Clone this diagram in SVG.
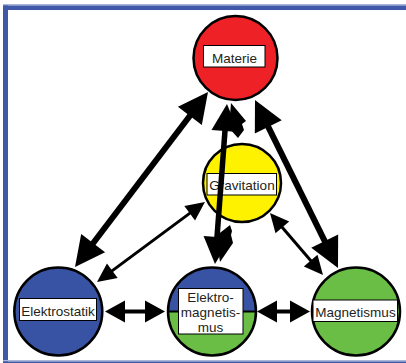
<svg xmlns="http://www.w3.org/2000/svg" width="406" height="363" viewBox="0 0 406 363">
<style>
.c{stroke:#000;stroke-width:2.5}
.lb{fill:#fff;stroke:#000;stroke-width:1}
text{font-family:"Liberation Sans",Arial,sans-serif;font-size:13.5px;fill:#231F20;text-anchor:middle}
.ln{stroke:#000;fill:none}
</style>
<defs>
<marker id="hL" markerUnits="userSpaceOnUse" markerWidth="30" markerHeight="30" refX="2" refY="15" orient="auto-start-reverse" overflow="visible"><path d="M0,0 L30,15 L0,30 z" fill="#000"/></marker>
<marker id="hC" markerUnits="userSpaceOnUse" markerWidth="27" markerHeight="27" refX="2" refY="13.5" orient="auto-start-reverse" overflow="visible"><path d="M0,0 L27,13.5 L0,27 z" fill="#000"/></marker>
<marker id="hS" markerUnits="userSpaceOnUse" markerWidth="19" markerHeight="18" refX="2" refY="9" orient="auto-start-reverse" overflow="visible"><path d="M0,0 L19,9 L0,18 z" fill="#000"/></marker>
<marker id="hH" markerUnits="userSpaceOnUse" markerWidth="20" markerHeight="22" refX="2" refY="11" orient="auto-start-reverse" overflow="visible"><path d="M0,0 L20,11 L0,22 z" fill="#000"/></marker>
</defs>
<g id="frame">
<rect x="3" y="4" width="403" height="1.6" fill="#A9B6DA"/>
<rect x="3" y="5.5" width="403" height="4.5" fill="#3F59A8"/>
<rect x="3" y="5.5" width="5" height="357.5" fill="#3F59A8"/>
<rect x="3" y="360" width="403" height="1.5" fill="#A9B6DA"/>
<rect x="3" y="361.5" width="403" height="1.5" fill="#3F59A8"/>
</g>
<g id="materie">
<circle class="c" cx="235.5" cy="58" r="42" fill="#EE2126"/>
<rect class="lb" x="203.5" y="45.5" width="61.5" height="21.5"/>
<text x="234.5" y="62.5">Materie</text>
</g>
<g id="gravitation">
<circle class="c" cx="242" cy="183" r="39" fill="#FFF200"/>
<rect class="lb" x="207" y="173.5" width="69.5" height="21.5"/>
<text x="242" y="189.5">Gravitation</text>
</g>
<g id="elektrostatik">
<circle class="c" cx="58.3" cy="311.5" r="44" fill="#3953A4"/>
<rect class="lb" x="19.5" y="298.5" width="77" height="22"/>
<text x="58" y="315.5">Elektrostatik</text>
</g>
<g id="elektromagnetismus">
<path d="M168,311.5 A44,44 0 0 1 256,311.5 z" fill="#3953A4"/>
<path d="M168,311.5 A44,44 0 0 0 256,311.5 z" fill="#6ABD45"/>
<line x1="168" y1="311.5" x2="256" y2="311.5" stroke="#000" stroke-width="2"/>
<circle class="c" cx="212" cy="311.5" r="44" fill="none"/>
<rect class="lb" x="178.5" y="288.5" width="64.5" height="45.5"/>
<text x="210.5" y="301.5">Elektro-</text>
<text x="210.5" y="317">magnetis-</text>
<text x="210.5" y="332">mus</text>
</g>
<g id="magnetismus">
<circle class="c" cx="356" cy="311.5" r="44" fill="#6ABD45"/>
<rect class="lb" x="313" y="300" width="84.5" height="21.5"/>
<text x="355.5" y="316.5">Magnetismus</text>
</g>
<g id="connectors">
<line class="ln" stroke-width="6" x1="191.06" y1="114.29" x2="91.94" y2="244.71" marker-start="url(#hL)" marker-end="url(#hL)"/>
<line class="ln" stroke-width="6" x1="267.4" y1="125.1" x2="325.6" y2="242.9" marker-start="url(#hL)" marker-end="url(#hL)"/>
<line class="ln" stroke-width="3" x1="191.3" y1="212.1" x2="110.7" y2="271.9" marker-start="url(#hS)" marker-end="url(#hS)"/>
<line class="ln" stroke-width="3" x1="281.05" y1="225.92" x2="311.95" y2="262.08" marker-start="url(#hS)" marker-end="url(#hS)"/>
<line class="ln" stroke-width="4" x1="123" y1="311.5" x2="147" y2="311.5" marker-start="url(#hH)" marker-end="url(#hH)"/>
<line class="ln" stroke-width="4" x1="275" y1="311.5" x2="292" y2="311.5" marker-start="url(#hH)" marker-end="url(#hH)"/>
<line class="ln" stroke-width="5.5" x1="225.13" y1="128.93" x2="216.87" y2="239.07" marker-start="url(#hC)" marker-end="url(#hC)"/>
<polygon points="231,103 246,121 242,124 244,130 238,138 229,128" fill="#000"/>
<polygon points="220,262 233,243 231,235 232,231 230,225 216,236" fill="#000"/>
</g>
</svg>
